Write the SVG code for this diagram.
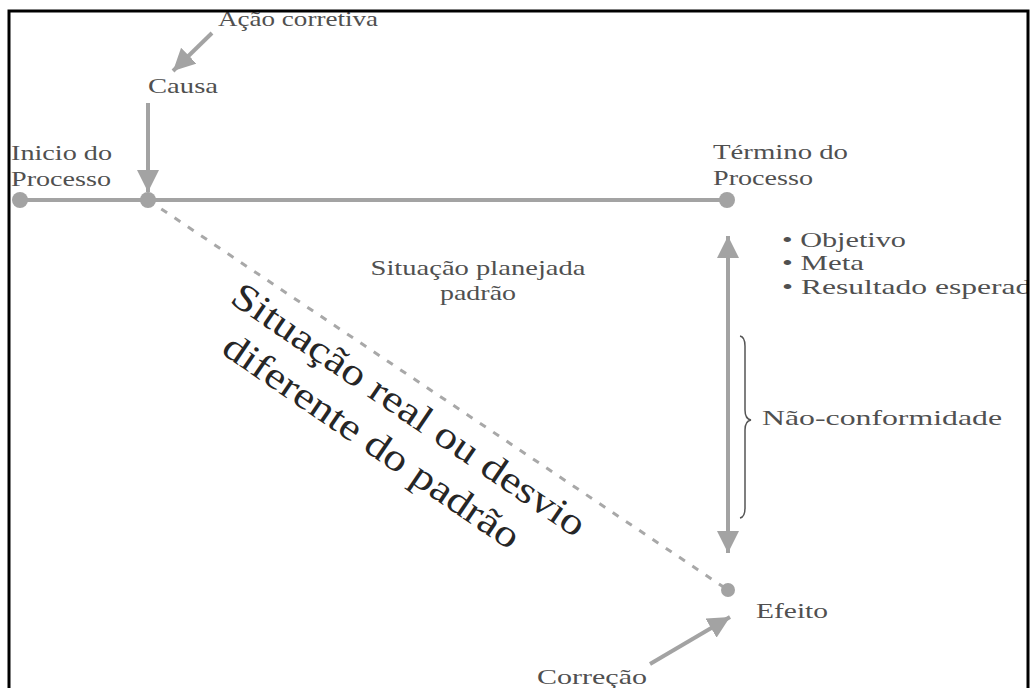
<svg xmlns="http://www.w3.org/2000/svg" width="1032" height="688" viewBox="0 0 1032 688">
  <style>
    .t { font-family: "Liberation Serif", "Times New Roman", serif; font-size: 21px; fill: #505050; }
    .big { font-family: "Liberation Serif", "Times New Roman", serif; font-size: 38px; fill: #262626; }
    .ln { stroke: #a3a3a3; stroke-width: 4; fill: none; }
    .dot { fill: #a3a3a3; }
  </style>
  <defs>
    <marker id="ah" viewBox="0 0 10 10" markerWidth="5.5" markerHeight="5.5" refX="10" refY="5" orient="auto-start-reverse" markerUnits="strokeWidth">
      <path d="M0,0 L10,5 L0,10 z" fill="#a3a3a3"/>
    </marker>
    <clipPath id="clip"><rect x="0" y="0" width="1027" height="688"/></clipPath>
  </defs>
  <rect width="1032" height="688" fill="#ffffff"/>

  <g id="connectors">
    <line class="ln" x1="20" y1="200" x2="727" y2="200"/>
    <line class="ln" x1="148" y1="103" x2="148" y2="192" marker-end="url(#ah)"/>
    <line class="ln" x1="212" y1="33" x2="173" y2="71" marker-end="url(#ah)"/>
    <line class="ln" x1="728" y1="236" x2="728" y2="553" marker-start="url(#ah)" marker-end="url(#ah)"/>
    <line class="ln" x1="650" y1="664" x2="730" y2="617" marker-end="url(#ah)"/>
    <line x1="148" y1="200" x2="728" y2="590" stroke="#a8a8a8" stroke-width="3" stroke-dasharray="7 9"/>
  </g>

  <g id="inicio">
    <circle class="dot" cx="20" cy="200" r="8"/>
    <text class="t" x="11" y="160" textLength="101" lengthAdjust="spacingAndGlyphs">Inicio do</text>
    <text class="t" x="11" y="186" textLength="100" lengthAdjust="spacingAndGlyphs">Processo</text>
  </g>
  <g id="causa">
    <circle class="dot" cx="148" cy="200" r="8"/>
    <text class="t" x="148" y="93" textLength="70" lengthAdjust="spacingAndGlyphs">Causa</text>
  </g>
  <g id="acao-corretiva">
    <text class="t" x="218" y="26" textLength="160" lengthAdjust="spacingAndGlyphs">Ação corretiva</text>
  </g>
  <g id="termino">
    <circle class="dot" cx="727" cy="200" r="8"/>
    <text class="t" x="713" y="159" textLength="135" lengthAdjust="spacingAndGlyphs">Término do</text>
    <text class="t" x="713" y="185" textLength="100" lengthAdjust="spacingAndGlyphs">Processo</text>
  </g>
  <g id="objetivos" clip-path="url(#clip)">
    <text class="t" x="782" y="247" textLength="124" lengthAdjust="spacingAndGlyphs">• Objetivo</text>
    <text class="t" x="782" y="270" textLength="82" lengthAdjust="spacingAndGlyphs">• Meta</text>
    <text class="t" x="782" y="294" textLength="265" lengthAdjust="spacingAndGlyphs">• Resultado esperado</text>
  </g>
  <g id="situacao-planejada">
    <text class="t" x="478" y="275" text-anchor="middle" textLength="215" lengthAdjust="spacingAndGlyphs">Situação planejada</text>
    <text class="t" x="478" y="300" text-anchor="middle" textLength="76" lengthAdjust="spacingAndGlyphs">padrão</text>
  </g>
  <g id="nao-conformidade">
    <path d="M740,336 Q745,337 745,346 L745,410 Q745,419 751,420 Q745,421 745,430 L745,508 Q745,517 740,518" fill="none" stroke="#555555" stroke-width="1.5"/>
    <text class="t" x="762" y="425" textLength="240" lengthAdjust="spacingAndGlyphs">Não-conformidade</text>
  </g>
  <g id="efeito">
    <circle class="dot" cx="728" cy="590" r="7"/>
    <text class="t" x="756" y="618" textLength="72" lengthAdjust="spacingAndGlyphs">Efeito</text>
  </g>
  <g id="correcao">
    <text class="t" x="537" y="684" textLength="110" lengthAdjust="spacingAndGlyphs">Correção</text>
  </g>
  <g id="situacao-real" transform="translate(402,420) rotate(34.3)">
    <text class="big" x="0" y="0" text-anchor="middle" textLength="420" lengthAdjust="spacingAndGlyphs">Situação real ou desvio</text>
    <text class="big" x="-13" y="47" text-anchor="middle" textLength="351" lengthAdjust="spacingAndGlyphs">diferente do padrão</text>
  </g>

  <path d="M9,688 V11 H1028 V688" fill="none" stroke="#000000" stroke-width="3"/>
</svg>
